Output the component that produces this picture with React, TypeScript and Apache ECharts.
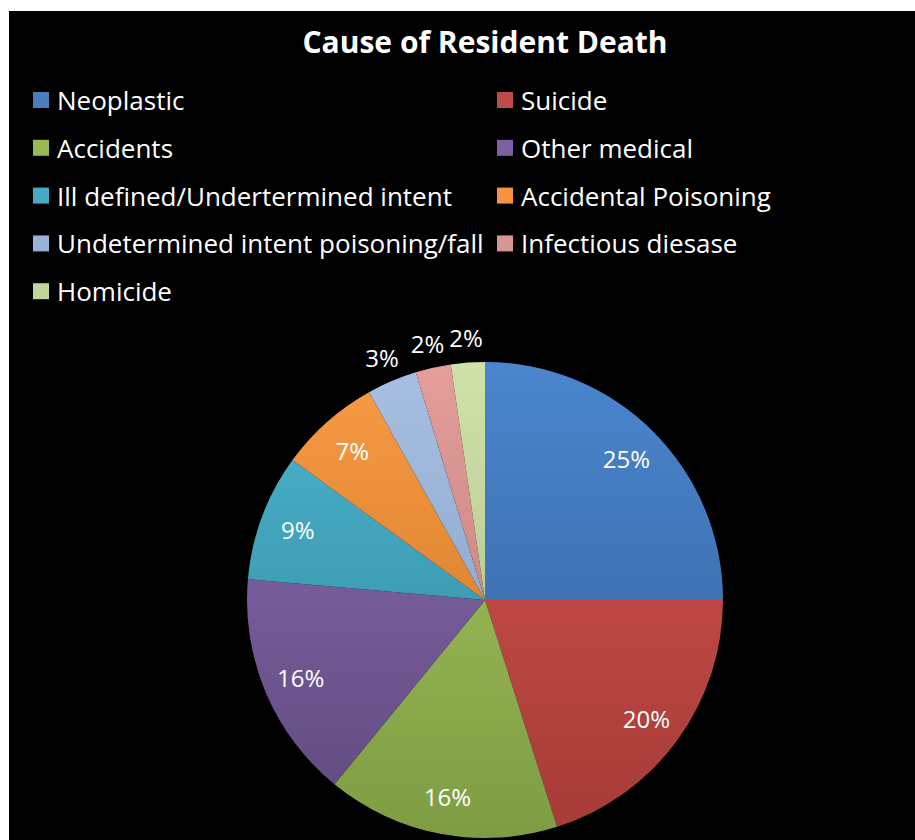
import React, { useEffect, useRef } from 'react';
import * as echarts from 'echarts';

const titleText = 'Cause of Resident Death';
const categories = [
  'Neoplastic',
  'Suicide',
  'Accidents',
  'Other medical',
  'Ill defined/Undertermined intent',
  'Accidental Poisoning',
  'Undetermined intent poisoning/fall',
  'Infectious diesase',
  'Homicide',
];
const values = [25.0, 20.1, 15.8, 15.5, 8.6, 6.9, 3.4, 2.4, 2.3];
const topColors = ['#4A86CE', '#D4534F', '#A8CA62', '#8A6CB0', '#4DB6D0', '#F99B47', '#A7C0E2', '#E49E9C', '#D0E2AA'];
const bottomColors = ['#335F99', '#A63B37', '#7E9C43', '#5F497F', '#2F8499', '#CA721F', '#7E98BF', '#B87472', '#A5B980'];
const legendColors = ['#4A7EBB', '#BE4B48', '#98B954', '#7D60A0', '#46AAC5', '#F69240', '#95B3D7', '#D99694', '#C3D69B'];
const FONT = 'Open Sans';

export default function App() {
  const ref = useRef<HTMLDivElement>(null);
  useEffect(() => {
    const chart = echarts.init(ref.current!, null, { renderer: 'svg' });
    const cx = 476;
    const cy = 589;
    const R = 238;
    const grad = (i: number) =>
      new echarts.graphic.LinearGradient(
        0, cy - R, 0, cy + R,
        [
          { offset: 0, color: topColors[i] },
          { offset: 1, color: bottomColors[i] },
        ],
        true
      );
    const mainData = categories.map((name, i) => ({ name, value: values[i], itemStyle: { color: grad(i) } }));
    const labelFmt = (p: any) => Math.round(p.percent) + '%';
    const labelStyle = { color: '#ffffff', fontFamily: FONT, fontSize: 24 };
    const innerData = categories.map((name, i) => ({ name, value: values[i], label: { show: i < 6 } }));
    const outerData = categories.map((name, i) => ({ name, value: values[i], label: { show: i >= 6 } }));
    const legendItem = (i: number) => ({ name: categories[i], itemStyle: { color: legendColors[i] } });
    const legendBase = {
      orient: 'vertical',
      top: 75.5,
      padding: 0,
      itemWidth: 16,
      itemHeight: 16,
      itemGap: 20.8,
      icon: 'rect',
      selectedMode: false,
      textStyle: { color: '#ffffff', fontFamily: FONT, fontSize: 26, lineHeight: 27, padding: [0, 0, 0, 3] },
    };
    chart.setOption({
      animation: false,
      backgroundColor: '#000000',
      graphic: [
        {
          type: 'text',
          x: 476,
          y: 30,
          style: {
            text: titleText,
            fill: '#ffffff',
            font: `bold 30px "${FONT}"`,
            textAlign: 'center',
            textVerticalAlign: 'middle',
          },
        },
      ],
      legend: [
        { ...legendBase, left: 24, data: [0, 2, 4, 6, 8].map(legendItem) },
        { ...legendBase, left: 488, data: [1, 3, 5, 7].map(legendItem) },
      ],
      series: [
        {
          type: 'pie',
          name: 'main',
          center: [cx, cy],
          radius: [0, R],
          startAngle: 90,
          clockwise: true,
          label: { show: false },
          labelLine: { show: false },
          emphasis: { disabled: true },
          silent: true,
          data: mainData,
        },
        {
          type: 'pie',
          name: 'innerLabels',
          center: [cx, cy],
          radius: [156, R],
          startAngle: 90,
          clockwise: true,
          itemStyle: { color: 'rgba(0,0,0,0)' },
          label: { show: true, position: 'inside', formatter: labelFmt, ...labelStyle },
          labelLine: { show: false },
          emphasis: { disabled: true },
          silent: true,
          data: innerData,
        },
        {
          type: 'pie',
          name: 'outerLabels',
          center: [cx, cy],
          radius: [250, 270],
          startAngle: 90,
          clockwise: true,
          itemStyle: { color: 'rgba(0,0,0,0)' },
          label: { show: true, position: 'inside', formatter: labelFmt, ...labelStyle },
          labelLine: { show: false },
          emphasis: { disabled: true },
          silent: true,
          data: outerData,
        },
      ],
    });
    return () => chart.dispose();
  }, []);
  return (
    <div style={{ position: 'absolute', left: 9, top: 11, width: 906, height: 829, background: '#000' }}>
      <div ref={ref} style={{ width: 906, height: 829 }} />
    </div>
  );
}
